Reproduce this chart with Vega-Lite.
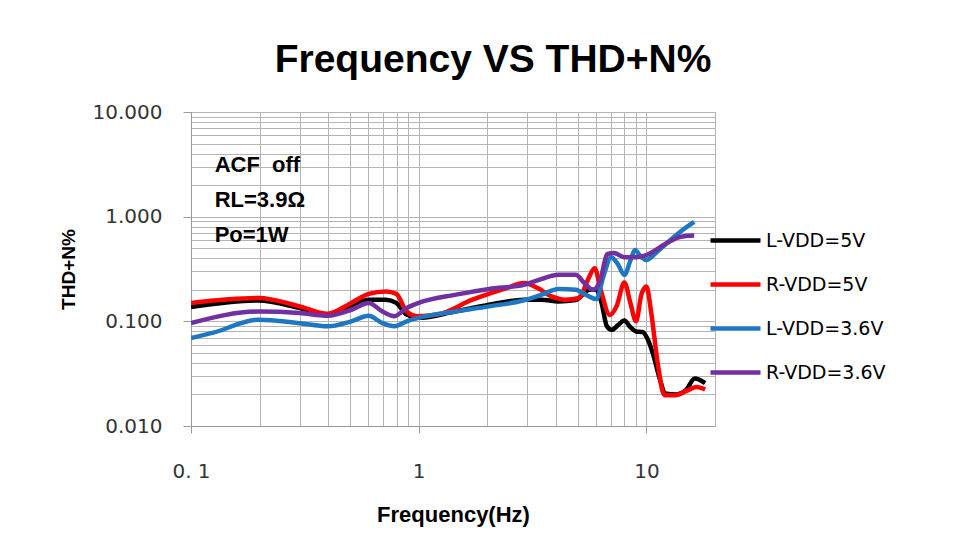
{
  "$schema": "https://vega.github.io/schema/vega-lite/v6.json",
  "width": 524,
  "height": 314,
  "autosize": {"type": "none"},
  "padding": {"left": 191, "top": 112, "right": 248, "bottom": 125},
  "background": "white",
  "title": {
    "text": "Frequency VS THD+N%",
    "font": "Liberation Sans",
    "fontSize": 39,
    "fontWeight": "bold",
    "color": "#000000",
    "anchor": "middle",
    "dx": 40,
    "baseline": "bottom",
    "offset": -17
  },
  "config": {
    "view": {"stroke": "#A6A6A6", "strokeWidth": 1},
    "axis": {"gridColor": "#B4B4B4", "gridWidth": 1, "domainColor": "#9A9A9A", "labelColor": "#333333", "titleColor": "#000000"}
  },
  "encoding": {
    "x": {
      "field": "f",
      "type": "quantitative",
      "scale": {"type": "log", "domain": [0.1, 20], "nice": false},
      "axis": {
        "values": [0.1, 0.2, 0.3, 0.4, 0.5, 0.6, 0.7, 0.8, 0.9, 1, 2, 3, 4, 5, 6, 7, 8, 9, 10, 20],
        "labelExpr": "datum.value == 0.1 ? '0. 1' : datum.value == 1 ? '1' : datum.value == 10 ? '10' : ''",
        "labelOverlap": false,
        "labelBound": false,
        "labelFlush": false,
        "grid": true,
        "tickSize": 7,
        "tickColor": {"condition": {"test": "datum.value == 0.1 || datum.value == 1 || datum.value == 10", "value": "#9A9A9A"}, "value": "transparent"},
        "labelFont": "DejaVu Sans",
        "labelFontSize": 20,
        "labelPadding": 28,
        "title": "Frequency(Hz)",
        "titleFont": "Liberation Sans",
        "titleFontSize": 22,
        "titleFontWeight": "bold",
        "titlePadding": 23
      }
    },
    "y": {
      "field": "thd",
      "type": "quantitative",
      "scale": {"type": "log", "domain": [0.01, 10], "nice": false},
      "axis": {
        "values": [0.01, 0.02, 0.03, 0.04, 0.05, 0.06, 0.07, 0.08, 0.09, 0.1, 0.2, 0.3, 0.4, 0.5, 0.6, 0.7, 0.8, 0.9, 1, 2, 3, 4, 5, 6, 7, 8, 9, 10],
        "labelExpr": "(datum.value == 0.01 || datum.value == 0.1 || datum.value == 1 || datum.value == 10) ? format(datum.value, '.3f') : ''",
        "labelOverlap": false,
        "labelBound": false,
        "labelFlush": false,
        "grid": true,
        "tickSize": 8,
        "tickColor": {"condition": {"test": "datum.value == 0.01 || datum.value == 0.1 || datum.value == 1 || datum.value == 10", "value": "#9A9A9A"}, "value": "transparent"},
        "labelFont": "DejaVu Sans",
        "labelFontSize": 20,
        "labelPadding": 21,
        "title": "THD+N%",
        "titleFont": "Liberation Sans",
        "titleFontSize": 19,
        "titleFontWeight": "bold",
        "titlePadding": 14
      }
    }
  },
  "layer": [
    {
      "data": {
        "values": [
          {"series": "L-VDD=5V", "f": 0.1, "thd": 0.137},
          {"series": "L-VDD=5V", "f": 0.1975, "thd": 0.158},
          {"series": "L-VDD=5V", "f": 0.3, "thd": 0.134},
          {"series": "L-VDD=5V", "f": 0.397, "thd": 0.116},
          {"series": "L-VDD=5V", "f": 0.506, "thd": 0.139},
          {"series": "L-VDD=5V", "f": 0.603, "thd": 0.161},
          {"series": "L-VDD=5V", "f": 0.718, "thd": 0.161},
          {"series": "L-VDD=5V", "f": 0.797, "thd": 0.15},
          {"series": "L-VDD=5V", "f": 0.885, "thd": 0.116},
          {"series": "L-VDD=5V", "f": 1.0, "thd": 0.108},
          {"series": "L-VDD=5V", "f": 1.44, "thd": 0.124},
          {"series": "L-VDD=5V", "f": 2.04, "thd": 0.144},
          {"series": "L-VDD=5V", "f": 2.9, "thd": 0.161},
          {"series": "L-VDD=5V", "f": 3.45, "thd": 0.161},
          {"series": "L-VDD=5V", "f": 4.11, "thd": 0.155},
          {"series": "L-VDD=5V", "f": 4.89, "thd": 0.16},
          {"series": "L-VDD=5V", "f": 5.62, "thd": 0.2},
          {"series": "L-VDD=5V", "f": 6.03, "thd": 0.2},
          {"series": "L-VDD=5V", "f": 6.35, "thd": 0.15},
          {"series": "L-VDD=5V", "f": 6.7, "thd": 0.09},
          {"series": "L-VDD=5V", "f": 7.05, "thd": 0.083},
          {"series": "L-VDD=5V", "f": 7.5, "thd": 0.092},
          {"series": "L-VDD=5V", "f": 8.0, "thd": 0.102},
          {"series": "L-VDD=5V", "f": 8.5, "thd": 0.088},
          {"series": "L-VDD=5V", "f": 9.0, "thd": 0.08},
          {"series": "L-VDD=5V", "f": 9.6, "thd": 0.079},
          {"series": "L-VDD=5V", "f": 10.2, "thd": 0.065},
          {"series": "L-VDD=5V", "f": 10.8, "thd": 0.045},
          {"series": "L-VDD=5V", "f": 11.4, "thd": 0.029},
          {"series": "L-VDD=5V", "f": 12.1, "thd": 0.0205},
          {"series": "L-VDD=5V", "f": 13.4, "thd": 0.02},
          {"series": "L-VDD=5V", "f": 14.9, "thd": 0.022},
          {"series": "L-VDD=5V", "f": 16.3, "thd": 0.0285},
          {"series": "L-VDD=5V", "f": 18.1, "thd": 0.0257},

          {"series": "R-VDD=5V", "f": 0.1, "thd": 0.15},
          {"series": "R-VDD=5V", "f": 0.1975, "thd": 0.167},
          {"series": "R-VDD=5V", "f": 0.3, "thd": 0.139},
          {"series": "R-VDD=5V", "f": 0.397, "thd": 0.118},
          {"series": "R-VDD=5V", "f": 0.506, "thd": 0.15},
          {"series": "R-VDD=5V", "f": 0.603, "thd": 0.183},
          {"series": "R-VDD=5V", "f": 0.718, "thd": 0.193},
          {"series": "R-VDD=5V", "f": 0.797, "thd": 0.183},
          {"series": "R-VDD=5V", "f": 0.885, "thd": 0.124},
          {"series": "R-VDD=5V", "f": 0.983, "thd": 0.112},
          {"series": "R-VDD=5V", "f": 1.21, "thd": 0.116},
          {"series": "R-VDD=5V", "f": 1.72, "thd": 0.161},
          {"series": "R-VDD=5V", "f": 2.43, "thd": 0.208},
          {"series": "R-VDD=5V", "f": 2.9, "thd": 0.232},
          {"series": "R-VDD=5V", "f": 3.33, "thd": 0.208},
          {"series": "R-VDD=5V", "f": 3.83, "thd": 0.173},
          {"series": "R-VDD=5V", "f": 4.4, "thd": 0.161},
          {"series": "R-VDD=5V", "f": 5.06, "thd": 0.167},
          {"series": "R-VDD=5V", "f": 5.53, "thd": 0.249},
          {"series": "R-VDD=5V", "f": 5.92, "thd": 0.322},
          {"series": "R-VDD=5V", "f": 6.3, "thd": 0.2},
          {"series": "R-VDD=5V", "f": 6.9, "thd": 0.115},
          {"series": "R-VDD=5V", "f": 7.4, "thd": 0.14},
          {"series": "R-VDD=5V", "f": 8.0, "thd": 0.235},
          {"series": "R-VDD=5V", "f": 8.5, "thd": 0.15},
          {"series": "R-VDD=5V", "f": 9.0, "thd": 0.1},
          {"series": "R-VDD=5V", "f": 9.5, "thd": 0.18},
          {"series": "R-VDD=5V", "f": 10.0, "thd": 0.215},
          {"series": "R-VDD=5V", "f": 10.5, "thd": 0.12},
          {"series": "R-VDD=5V", "f": 11.2, "thd": 0.04},
          {"series": "R-VDD=5V", "f": 12.0, "thd": 0.0197},
          {"series": "R-VDD=5V", "f": 13.4, "thd": 0.0197},
          {"series": "R-VDD=5V", "f": 14.9, "thd": 0.0215},
          {"series": "R-VDD=5V", "f": 16.6, "thd": 0.0236},
          {"series": "R-VDD=5V", "f": 18.1, "thd": 0.0224},

          {"series": "L-VDD=3.6V", "f": 0.1, "thd": 0.0693},
          {"series": "L-VDD=3.6V", "f": 0.1255, "thd": 0.078},
          {"series": "L-VDD=3.6V", "f": 0.1975, "thd": 0.1037},
          {"series": "L-VDD=3.6V", "f": 0.3, "thd": 0.096},
          {"series": "L-VDD=3.6V", "f": 0.397, "thd": 0.0896},
          {"series": "L-VDD=3.6V", "f": 0.506, "thd": 0.1},
          {"series": "L-VDD=3.6V", "f": 0.603, "thd": 0.113},
          {"series": "L-VDD=3.6V", "f": 0.693, "thd": 0.096},
          {"series": "L-VDD=3.6V", "f": 0.783, "thd": 0.0896},
          {"series": "L-VDD=3.6V", "f": 0.885, "thd": 0.1},
          {"series": "L-VDD=3.6V", "f": 1.0, "thd": 0.108},
          {"series": "L-VDD=3.6V", "f": 1.44, "thd": 0.124},
          {"series": "L-VDD=3.6V", "f": 2.04, "thd": 0.139},
          {"series": "L-VDD=3.6V", "f": 2.9, "thd": 0.159},
          {"series": "L-VDD=3.6V", "f": 3.45, "thd": 0.179},
          {"series": "L-VDD=3.6V", "f": 4.11, "thd": 0.204},
          {"series": "L-VDD=3.6V", "f": 4.89, "thd": 0.2},
          {"series": "L-VDD=3.6V", "f": 5.43, "thd": 0.179},
          {"series": "L-VDD=3.6V", "f": 6.03, "thd": 0.163},
          {"series": "L-VDD=3.6V", "f": 6.47, "thd": 0.268},
          {"series": "L-VDD=3.6V", "f": 7.0, "thd": 0.41},
          {"series": "L-VDD=3.6V", "f": 7.5, "thd": 0.35},
          {"series": "L-VDD=3.6V", "f": 8.0, "thd": 0.277},
          {"series": "L-VDD=3.6V", "f": 8.5, "thd": 0.38},
          {"series": "L-VDD=3.6V", "f": 8.9, "thd": 0.48},
          {"series": "L-VDD=3.6V", "f": 9.5, "thd": 0.41},
          {"series": "L-VDD=3.6V", "f": 10.0, "thd": 0.385},
          {"series": "L-VDD=3.6V", "f": 11.0, "thd": 0.45},
          {"series": "L-VDD=3.6V", "f": 12.3, "thd": 0.56},
          {"series": "L-VDD=3.6V", "f": 14.0, "thd": 0.71},
          {"series": "L-VDD=3.6V", "f": 16.2, "thd": 0.89},

          {"series": "R-VDD=3.6V", "f": 0.1, "thd": 0.0964},
          {"series": "R-VDD=3.6V", "f": 0.1975, "thd": 0.124},
          {"series": "R-VDD=3.6V", "f": 0.3, "thd": 0.12},
          {"series": "R-VDD=3.6V", "f": 0.397, "thd": 0.113},
          {"series": "R-VDD=3.6V", "f": 0.506, "thd": 0.129},
          {"series": "R-VDD=3.6V", "f": 0.603, "thd": 0.15},
          {"series": "R-VDD=3.6V", "f": 0.693, "thd": 0.124},
          {"series": "R-VDD=3.6V", "f": 0.783, "thd": 0.112},
          {"series": "R-VDD=3.6V", "f": 0.885, "thd": 0.134},
          {"series": "R-VDD=3.6V", "f": 1.0, "thd": 0.15},
          {"series": "R-VDD=3.6V", "f": 1.44, "thd": 0.179},
          {"series": "R-VDD=3.6V", "f": 2.04, "thd": 0.204},
          {"series": "R-VDD=3.6V", "f": 2.9, "thd": 0.223},
          {"series": "R-VDD=3.6V", "f": 3.45, "thd": 0.253},
          {"series": "R-VDD=3.6V", "f": 4.11, "thd": 0.278},
          {"series": "R-VDD=3.6V", "f": 4.89, "thd": 0.278},
          {"series": "R-VDD=3.6V", "f": 5.34, "thd": 0.232},
          {"series": "R-VDD=3.6V", "f": 5.82, "thd": 0.2},
          {"series": "R-VDD=3.6V", "f": 6.24, "thd": 0.24},
          {"series": "R-VDD=3.6V", "f": 6.75, "thd": 0.44},
          {"series": "R-VDD=3.6V", "f": 7.2, "thd": 0.45},
          {"series": "R-VDD=3.6V", "f": 8.0, "thd": 0.41},
          {"series": "R-VDD=3.6V", "f": 9.0, "thd": 0.41},
          {"series": "R-VDD=3.6V", "f": 10.0, "thd": 0.43},
          {"series": "R-VDD=3.6V", "f": 12.3, "thd": 0.56},
          {"series": "R-VDD=3.6V", "f": 14.0, "thd": 0.64},
          {"series": "R-VDD=3.6V", "f": 16.2, "thd": 0.66}
        ]
      },
      "mark": {"type": "line", "interpolate": "monotone", "strokeWidth": 4.5, "clip": true},
      "encoding": {
        "color": {
          "field": "series",
          "type": "nominal",
          "sort": ["L-VDD=5V", "R-VDD=5V", "L-VDD=3.6V", "R-VDD=3.6V"],
          "scale": {"domain": ["L-VDD=5V", "R-VDD=5V", "L-VDD=3.6V", "R-VDD=3.6V"], "range": ["#000000", "#FF0000", "#1F77C0", "#7030A0"]},
          "legend": {
            "orient": "none",
            "legendX": 522,
            "legendY": 106,
            "title": null,
            "symbolType": "M-1.25,0H1.25",
            "symbolSize": 1600,
            "symbolStrokeWidth": 4.5,
            "labelFont": "DejaVu Sans",
            "labelFontSize": 19,
            "labelColor": "#000000",
            "rowPadding": 11,
            "padding": 0,
            "labelOffset": 8
          }
        }
      }
    },
    {
      "data": {
        "values": [
          {"f": 0.127, "thd": 2.67, "note": "ACF\u00a0 off"},
          {"f": 0.127, "thd": 1.24, "note": "RL=3.9Ω"},
          {"f": 0.127, "thd": 0.573, "note": "Po=1W"}
        ]
      },
      "mark": {"type": "text", "align": "left", "baseline": "alphabetic", "font": "Liberation Sans", "fontSize": 22, "fontWeight": "bold", "color": "#000000"},
      "encoding": {"text": {"field": "note", "type": "nominal"}}
    }
  ]
}
